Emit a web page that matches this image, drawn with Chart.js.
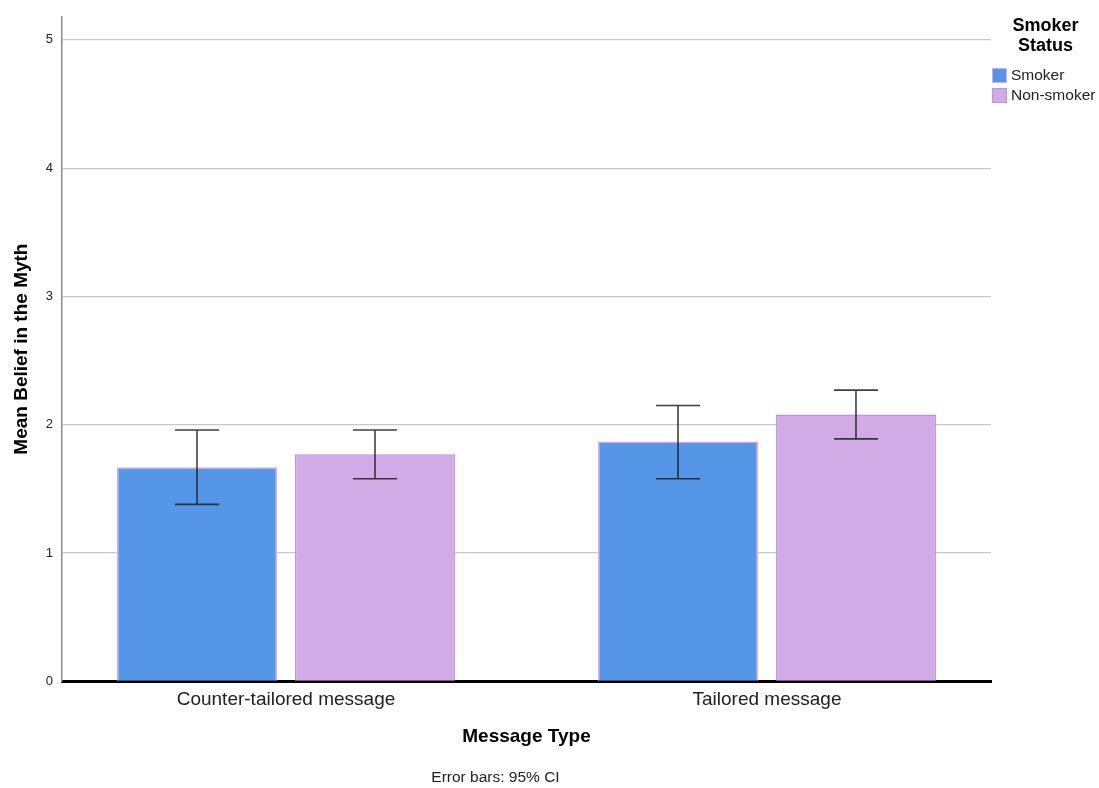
<!DOCTYPE html>
<html>
<head>
<meta charset="utf-8">
<script src="https://cdn.jsdelivr.net/npm/chart.js@4"></script>
<style>
  body { margin: 0; background: #fff; font-family: "Liberation Sans", Arial, sans-serif; }
  #wrap { position: relative; width: 1099px; height: 788px; }
  #legend { position: absolute; left: 992px; top: 15px; width: 107px; }
  #legend .title { font-weight: bold; font-size: 18px; line-height: 20px; text-align: center; color: #000; margin-bottom: 10px; }
  #legend .item { display: flex; align-items: center; height: 20px; font-size: 15.5px; color: #222; }
  #legend .box { width: 15px; height: 15px; box-sizing: border-box; margin-right: 4px; border: 1px solid; }
</style>
</head>
<body>
<div id="wrap">
  <canvas id="chart" width="1099" height="788"></canvas>
  <div id="legend"></div>
</div>
<script>
// Data
const categories = ['Counter-tailored message', 'Tailored message'];
const seriesNames = ['Smoker', 'Non-smoker'];
const smokerMeans = [1.67, 1.87];
const smokerLow = [1.38, 1.58];
const smokerHigh = [1.96, 2.15];
const nonSmokerMeans = [1.77, 2.08];
const nonSmokerLow = [1.58, 1.89];
const nonSmokerHigh = [1.96, 2.27];
const yTicks = [0, 1, 2, 3, 4, 5];

const fills = ['#5596e6', '#d1abe5'];
const borders = ['#dba6ef', '#c690e0'];
const font = '"Liberation Sans", Arial, sans-serif';

// error bars drawn through the y scale
const errorBars = {
    id: 'errorBars',
    afterDatasetsDraw(chart) {
        const ctx = chart.ctx;
        const y = chart.scales.y;
        chart.data.datasets.forEach((ds, i) => {
            const meta = chart.getDatasetMeta(i);
            meta.data.forEach((bar, j) => {
                const top = y.getPixelForValue(ds.ciHigh[j]);
                const bot = y.getPixelForValue(ds.ciLow[j]);
                ctx.save();
                ctx.strokeStyle = 'rgba(30,30,30,0.85)';
                ctx.lineWidth = 1.6;
                ctx.beginPath();
                ctx.moveTo(bar.x, top);
                ctx.lineTo(bar.x, bot);
                ctx.moveTo(bar.x - 22, top);
                ctx.lineTo(bar.x + 22, top);
                ctx.moveTo(bar.x - 22, bot);
                ctx.lineTo(bar.x + 22, bot);
                ctx.stroke();
                ctx.restore();
            });
        });
    },
};

const makeData = (vals) => vals.map((v, i) => ({ x: i, y: v }));

const chart = new Chart(document.getElementById('chart'), {
    type: 'bar',
    data: {
        datasets: [
            {
                label: seriesNames[0],
                data: makeData(smokerMeans),
                ciLow: smokerLow,
                ciHigh: smokerHigh,
                backgroundColor: fills[0],
                borderColor: borders[0],
                borderWidth: 1.5,
            },
            {
                label: seriesNames[1],
                data: makeData(nonSmokerMeans),
                ciLow: nonSmokerLow,
                ciHigh: nonSmokerHigh,
                backgroundColor: fills[1],
                borderColor: borders[1],
                borderWidth: 1.5,
            },
        ],
    },
    options: {
        responsive: false,
        animation: false,
        categoryPercentage: 0.74,
        barPercentage: 0.9,
        layout: { padding: { top: 14, right: 108, left: 0, bottom: 0 } },
        scales: {
            x: {
                type: 'linear',
                offset: false,
                min: -0.4657,
                max: 1.4657,
                afterBuildTicks: (s) => {
                    s.ticks = categories.map((c, i) => ({ value: i }));
                },
                afterFit: (s) => {
                    s.height = 67;
                },
                grid: { display: false, drawTicks: false, offset: false },
                border: { color: '#000', width: 3 },
                ticks: {
                    callback: (v) => categories[v],
                    color: '#222',
                    padding: 7,
                    maxRotation: 0,
                    font: { family: font, size: 19 },
                },
                title: {
                    display: true,
                    text: 'Message Type',
                    color: '#000',
                    padding: { top: 0, bottom: 0 },
                    font: { family: font, size: 19, weight: 'bold' },
                },
            },
            y: {
                min: 0,
                max: 5.18,
                afterBuildTicks: (s) => {
                    s.ticks = yTicks.map((v) => ({ value: v }));
                },
                afterFit: (s) => {
                    s.width = 62;
                },
                grid: { color: '#c8c8c8', lineWidth: 1.2, drawTicks: false },
                border: { color: '#8c8c8c', width: 1.5 },
                ticks: {
                    color: '#222',
                    padding: 9,
                    font: { family: font, size: 13 },
                },
                title: {
                    display: true,
                    text: 'Mean Belief in the Myth',
                    color: '#000',
                    padding: { top: 10, bottom: 0 },
                    font: { family: font, size: 19, weight: 'bold' },
                },
            },
        },
        plugins: {
            legend: { display: false },
            tooltip: { enabled: false },
            subtitle: {
                display: true,
                position: 'bottom',
                text: 'Error bars: 95% CI',
                color: '#222',
                padding: { top: 20, bottom: 1 },
                font: { family: font, size: 15.5, weight: 'normal' },
            },
        },
    },
    plugins: [errorBars],
});

// legend built from the dataset labels
const legend = document.getElementById('legend');
legend.innerHTML = '<div class="title">Smoker<br>Status</div>' +
    chart.data.datasets.map((ds) =>
        '<div class="item"><span class="box" style="background:' + ds.backgroundColor +
        ';border-color:' + ds.borderColor + '"></span>' + ds.label + '</div>'
    ).join('');
</script>
</body>
</html>
